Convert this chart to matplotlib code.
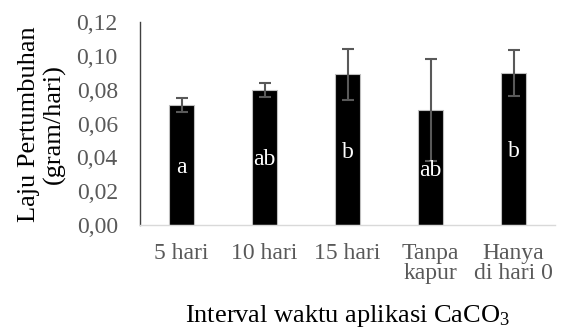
import matplotlib
matplotlib.use("Agg")
import matplotlib.pyplot as plt

categories = ["5 hari", "10 hari", "15 hari", "Tanpa\nkapur", "Hanya\ndi hari 0"]
values = [0.071, 0.080, 0.089, 0.068, 0.090]
errors = [0.004, 0.0042, 0.015, 0.030, 0.0137]
letters = ["a", "ab", "b", "ab", "b"]
yticks = [0.00, 0.02, 0.04, 0.06, 0.08, 0.10, 0.12]

plt.rcParams['font.family'] = ['Liberation Serif', 'DejaVu Serif']
plt.rcParams['mathtext.fontset'] = 'custom'
plt.rcParams['mathtext.rm'] = 'Liberation Serif'
plt.rcParams['mathtext.it'] = 'Liberation Serif:italic'
plt.rcParams['mathtext.bf'] = 'Liberation Serif:bold'
plt.rcParams['mathtext.default'] = 'rm'

W, H = 561, 334
fig = plt.figure(figsize=(W/100, H/100), dpi=100)
ax = fig.add_axes([140/W, 1-225/H, 415/W, 203/H])

x = list(range(len(categories)))
ax.bar(x, values, width=0.31, color="black", edgecolor="#bfbfbf", linewidth=0.8, zorder=2)
ax.errorbar(x, values, yerr=errors, fmt="none", ecolor="#595959", elinewidth=1.5,
            capsize=4.3, capthick=1.5, zorder=3)
for xi, v, l in zip(x, values, letters):
    ax.text(xi, v/2 - 0.0015, l, ha="center", va="center", color="white", fontsize=17, zorder=4)

ax.set_xlim(-0.5, len(categories) - 0.5)
ax.set_ylim(0, 0.12)
ax.set_yticks(yticks)
ax.set_yticklabels([f"{t:.2f}".replace(".", ",") for t in yticks])
ax.set_xticks(x)
ax.set_xticklabels(categories, linespacing=0.95)
ax.tick_params(axis="both", length=0, labelsize=17, labelcolor="#595959")
ax.tick_params(axis="y", pad=16)
ax.tick_params(axis="x", pad=13)

for s in ["top", "right"]:
    ax.spines[s].set_visible(False)
ax.spines["left"].set_color("#404040")
ax.spines["left"].set_linewidth(1.0)
ax.spines["bottom"].set_color("#d9d9d9")
ax.spines["bottom"].set_linewidth(1.0)

fig.text(42/W, 1-124/H, "Laju Pertumbuhan\n(gram/hari)", rotation=90, ha="center", va="center",
         fontsize=19, color="black", linespacing=1.12)
fig.text(347/W, 1-322/H, "Interval waktu aplikasi CaCO$_3$", ha="center", va="baseline",
         fontsize=19, color="black")

fig.savefig("out.png", dpi=100)
